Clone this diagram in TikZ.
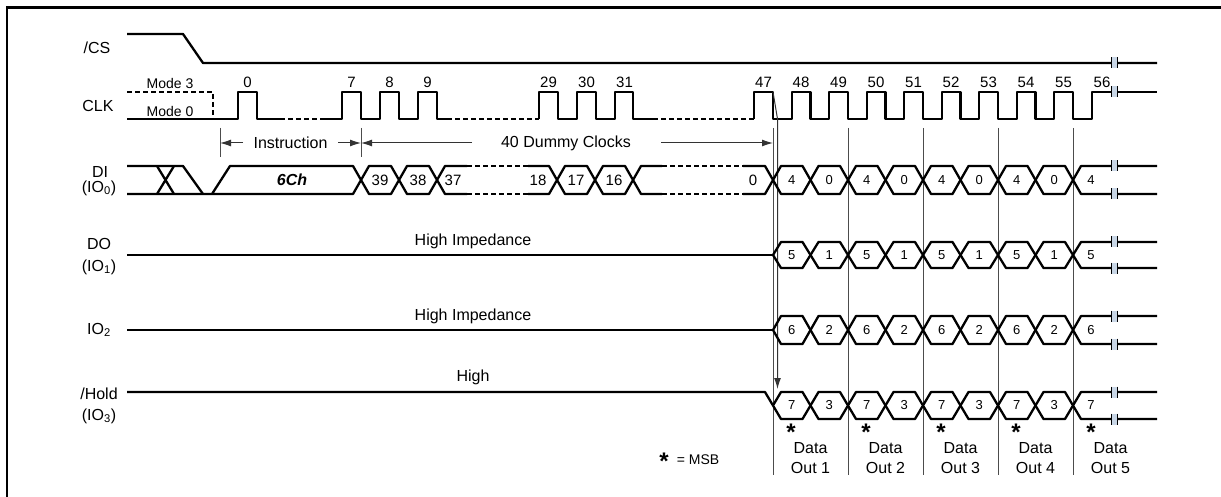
\documentclass[tikz,border=0pt]{standalone}
\usepackage{fontspec}
\setmainfont{Liberation Sans}
\usetikzlibrary{arrows.meta}
\definecolor{brkc}{RGB}{200,214,230}
\newcommand\hexcell[4]{%
  \draw[sig] (#1,{(#3+#4)/2}) -- ({#1+8},#3) -- ({#2-8},#3) -- (#2,{(#3+#4)/2}) -- ({#2-8},#4) -- ({#1+8},#4) -- cycle;}
\newcommand\brkmark[2]{%
  \fill[brkc] ({#1-3},{#2-5.5}) rectangle ({#1+3},{#2+5.5});
  \draw[line width=0.9pt] ({#1-3},{#2-5.5}) -- ({#1-3},{#2+5.5}) ({#1+3},{#2-5.5}) -- ({#1+3},{#2+5.5});}
\begin{document}
\begin{tikzpicture}[x=1pt,y=-1pt,
  sig/.style={line width=2.3pt, line join=round},
  dsig/.style={line width=2.3pt, dash pattern=on 5pt off 3pt},
  thinl/.style={line width=1pt, draw=black!70},
  arr/.style={line width=1pt, draw=black!80, -{Latex[length=11pt,width=7pt]}},
  lbl/.style={font=\fontsize{16}{18}\selectfont, inner sep=0pt},
  mode/.style={font=\fontsize{14}{16}\selectfont, inner sep=0pt},
  num/.style={font=\fontsize{15}{17}\selectfont, inner sep=0pt},
  cellnum/.style={font=\fontsize{13}{15}\selectfont, inner sep=0pt},
  bignum/.style={font=\fontsize{15}{17}\selectfont, inner sep=0pt},
  starmark/.style={font=\bfseries\fontsize{24}{24}\selectfont, inner sep=0pt, anchor=north},
]
\useasboundingbox (0,0) rectangle (1221,497);
% frame
\draw[line width=2.6pt] (7,500) -- (7,7.5) -- (1225,7.5);

% signal names
\node[lbl] (lcs) at (97,48) {/CS};
\node[lbl] (lclk) at (98,106) {CLK};
\node[lbl] (ldi) at (100,172) {DI};
\node[lbl] (ldi2) at (99,188) {(IO\textsubscript{0})};
\node[lbl] (ldo) at (99,244) {DO};
\node[lbl] (ldo2) at (99,267) {(IO\textsubscript{1})};
\node[lbl] (lio2) at (99,330) {IO\textsubscript{2}};
\node[lbl] (lhold) at (99,394) {/Hold};
\node[lbl] (lhold2) at (99,416) {(IO\textsubscript{3})};
\node[mode] (m3) at (170,83) {Mode 3};
\node[mode] (m0) at (170,111) {Mode 0};

% /CS
\draw[sig] (127,34) -- (183,34) -- (203,63) -- (1157,63);
\brkmark{1114}{63}

% CLK
\draw[dsig] (127,92) -- (213,92) -- (213,119);
\draw[sig] (127,119) -- (238,119) -- (238,92) -- (257,92) -- (257,119) -- (280,119);
\draw[dsig] (280,119) -- (322,119);
\draw[sig] (322,119) -- (342,119) -- (342,92) -- (361,92) -- (361,119) -- (380,119) -- (380,92) -- (399,92) -- (399,119) -- (418,119) -- (418,92) -- (437,92) -- (437,119) -- (447,119);
\draw[dsig] (447,119) -- (539,119);
\draw[sig] (539,119) -- (539,92) -- (558,92) -- (558,119) -- (577,119) -- (577,92) -- (596,92) -- (596,119) -- (615,119) -- (615,92) -- (633,92) -- (633,119) -- (653,119);
\draw[dsig] (653,119) -- (754,119);
\draw[sig] (754,119) -- (754,92) -- (773,92) -- (773,119)
  \foreach \i in {0,...,7} { -- ({791.75+37.5*\i},119) -- ({791.75+37.5*\i},92) -- ({810.5+37.5*\i},92) -- ({810.5+37.5*\i},119) }
  -- (1091.75,119) -- (1091.75,92) -- (1157,92);
\brkmark{1114}{92}

% clock numbers
\node[num] (n0) at (247.5,82) {0};
\node[num] (n7) at (351.5,82) {7};
\node[num] (n8) at (389.5,82) {8};
\node[num] (n9) at (427.5,82) {9};
\node[num] (n29) at (548.5,82) {29};
\node[num] (n30) at (586.5,82) {30};
\node[num] (n31) at (624.5,82) {31};
\foreach \n in {47,...,55} {
  \node[num] (n\n) at ({763.5+37.5*(\n-47)},82) {\n};
}
\node[num] (n56) at (1102,82) {56};

% instruction / dummy clocks
\coordinate (t0a) at (220,128); \coordinate (t0b) at (220,157);
\coordinate (t1a) at (361,128); \coordinate (t1b) at (361,157);
\draw[thinl] (t0a) -- (t0b);
\draw[thinl] (t1a) -- (t1b);
\coordinate (i0) at (220,143); \coordinate (i1) at (361,143); \coordinate (i2) at (773,143);
\coordinate (ia) at (243,143); \coordinate (ib) at (338,143);
\coordinate (da) at (472,143); \coordinate (db) at (661,143);
\draw[arr] (ia) -- (i0);
\draw[arr] (ib) -- (i1);
\draw[arr] (da) -- (i1);
\draw[arr] (db) -- (i2);
\node[lbl] (instr) at (290.5,143) {Instruction};
\node[lbl] (dummy) at (566,143) {40 Dummy Clocks};

% vertical markers
\foreach \x in {773,848,923,998,1073} {
  \draw[thinl] (\x,128) -- (\x,475);
}
% clock to hold arrow
\coordinate (ck47) at (773,92);
\coordinate (ckb) at (777.5,119);
\coordinate (hold0) at (777.5,389);
\draw[arr] (ck47) -- (ckb) -- (hold0);

% DI left part
\draw[sig] (127,166) -- (183,166) -- (203,194);
\draw[sig] (157,166) -- (174,194) (174,166) -- (157,194);
\draw[sig] (127,194) -- (353,194) -- (361,180) -- (353,166) -- (230,166) -- (212,194);
\node[font=\bfseries\itshape\fontsize{16}{18}\selectfont, inner sep=0pt] (six) at (292,180) {6Ch};
\hexcell{361}{399}{166}{194}
\hexcell{399}{437}{166}{194}
\node[bignum] (d39) at (380,180) {39};
\node[bignum] (d38) at (418,180) {38};
\draw[sig] (467,166) -- (445,166) -- (437,180) -- (445,194) -- (467,194);
\draw[dsig] (467,166) -- (528,166) (467,194) -- (528,194);
\draw[sig] (528,166) -- (549,166) -- (557,180) -- (549,194) -- (528,194);
\node[bignum] (d37) at (453,180) {37};
\node[bignum] (d18) at (538,180) {18};
\hexcell{557}{595}{166}{194}
\hexcell{595}{633}{166}{194}
\node[bignum] (d17) at (576,180) {17};
\node[bignum] (d16) at (614,180) {16};
\draw[sig] (662,166) -- (641,166) -- (633,180) -- (641,194) -- (662,194);
\draw[dsig] (662,166) -- (743,166) (662,194) -- (743,194);
\draw[sig] (743,166) -- (765,166) -- (773,180) -- (765,194) -- (743,194);
\node[bignum] (d0) at (753,180) {0};

% DO, IO2, Hold idle
\draw[sig] (127,255) -- (773,255);
\draw[sig] (127,330) -- (773,330);
\draw[sig] (127,392) -- (765,392) -- (773,405.5);
\node[lbl] (hz1) at (473,241) {High Impedance};
\node[lbl] (hz2) at (473,316) {High Impedance};
\node[lbl] (hi) at (473,377) {High};

% data cells
\foreach \yt/\yb/\la/\lb in {166/194/4/0, 242/268/5/1, 316/344/6/2, 392/419/7/3} {
  \foreach \k in {0,...,7} {
    \pgfmathsetmacro\xa{773+37.5*\k}
    \pgfmathsetmacro\xb{\xa+37.5}
    \pgfmathsetmacro\xc{\xa+18.75}
    \pgfmathtruncatemacro\odd{mod(\k,2)}
    \hexcell{\xa}{\xb}{\yt}{\yb}
    \node[cellnum] (c\yt-\k) at (\xc,{(\yt+\yb)/2}) {\ifnum\odd=0 \la\else \lb\fi};
  }
  \draw[sig] (1157,\yt) -- (1081,\yt) -- (1073,{(\yt+\yb)/2}) -- (1081,\yb) -- (1157,\yb);
  \node[cellnum] (c\yt-8) at (1091,{(\yt+\yb)/2}) {\la};
  \brkmark{1114}{\yt}
  \brkmark{1114}{\yb}
}

% MSB stars and data out labels
\foreach \j in {1,...,5} {
  \node[starmark] (s\j) at ({791+75*(\j-1)},424) {*};
  \node[lbl] (da\j) at ({810.5+75*(\j-1)},448) {Data};
  \node[lbl] (do\j) at ({810.5+75*(\j-1)},468) {Out \j};
}
\node[starmark] (smsb) at (664,453) {*};
\node[mode] (msb) at (698,460) {= MSB};
\end{tikzpicture}
\end{document}
